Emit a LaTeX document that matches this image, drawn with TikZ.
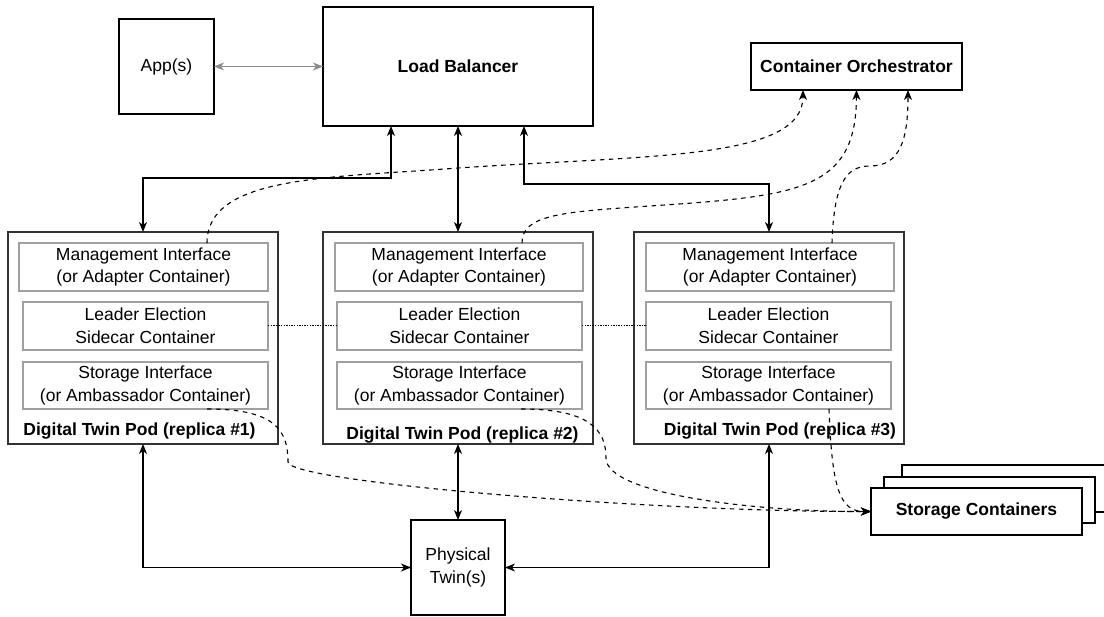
\documentclass[tikz,border=0pt]{standalone}
\usepackage{fontspec}
\setmainfont{Liberation Sans}
\usetikzlibrary{arrows.meta}
\definecolor{podgrey}{HTML}{333333}
\definecolor{partgrey}{HTML}{A0A0A0}
\definecolor{appgrey}{HTML}{8C8C8C}
\begin{document}
\begin{tikzpicture}[x=1pt,y=-1pt,
  txt/.style={font=\fontsize{17.5}{22.7}\selectfont, align=center, inner sep=0pt, outer sep=0pt},
  box/.style={txt, draw=black, line width=1.3pt, fill=white},
  podbox/.style={draw=podgrey, line width=1.4pt, inner sep=0pt, outer sep=0pt, minimum width=270pt, minimum height=212pt},
  part/.style={txt, draw=partgrey, line width=1.3pt, minimum height=48pt},
  tip/.style={Stealth[length=10pt,width=8pt,inset=3pt]},
  link/.style={line width=1.1pt, {Stealth[length=10pt,width=8pt,inset=3pt]}-{Stealth[length=10pt,width=8pt,inset=3pt]}},
  ctrl/.style={line width=1.1pt, dash pattern=on 4.5pt off 4.5pt, -{Stealth[length=10pt,width=8pt,inset=3pt]}},
  sync/.style={line width=1pt, dash pattern=on 1.3pt off 1.3pt}
]
\useasboundingbox (0,0) rectangle (1104,617);
\clip (0,0) rectangle (1104,617);

% top row
\node[box, minimum width=95pt, minimum height=95pt] (app) at (166.5,66.5) {App(s)};
\node[box, minimum width=270pt, minimum height=119pt] (lb) at (458,66.5) {\bfseries Load Balancer};
\node[box, minimum width=211pt, minimum height=47pt] (orch) at (856.5,66.5) {\bfseries Container Orchestrator};

% pods
\node[podbox] (pod1) at (143,338) {};
\node[podbox] (pod2) at (458,338) {};
\node[podbox] (pod3) at (769,338) {};

\node[part, minimum width=249pt] (mgmt1) at (143.5,267) {Management Interface\\(or Adapter Container)};
\node[part, minimum width=245pt] (lead1) at (145.5,326) {Leader Election\\Sidecar Container};
\node[part, minimum width=245pt, minimum height=47pt] (store1) at (145.5,385.5) {Storage Interface\\(or Ambassador Container)};
\node[txt, font=\fontsize{17.5}{22.7}\selectfont\bfseries] (lab1) at (139.5,431) {Digital Twin Pod (replica \#1)};

\node[part, minimum width=248pt] (mgmt2) at (459,267) {Management Interface\\(or Adapter Container)};
\node[part, minimum width=245pt] (lead2) at (459.5,326) {Leader Election\\Sidecar Container};
\node[part, minimum width=245pt, minimum height=47pt] (store2) at (459.5,385.5) {Storage Interface\\(or Ambassador Container)};
\node[txt, font=\fontsize{17.5}{22.7}\selectfont\bfseries] (lab2) at (462.5,435) {Digital Twin Pod (replica \#2)};

\node[part, minimum width=248pt] (mgmt3) at (770,267) {Management Interface\\(or Adapter Container)};
\node[part, minimum width=245pt] (lead3) at (768.5,326) {Leader Election\\Sidecar Container};
\node[part, minimum width=245pt, minimum height=47pt] (store3) at (768.5,385.5) {Storage Interface\\(or Ambassador Container)};
\node[txt, font=\fontsize{17.5}{22.7}\selectfont\bfseries] (lab3) at (780,431) {Digital Twin Pod (replica \#3)};

% physical twin
\node[box, minimum width=94pt, minimum height=95pt] (phys) at (458,567.5) {Physical\\Twin(s)};

% storage stack
\node[box, minimum width=206pt, minimum height=47pt] (stback) at (1005,488.5) {};
\node[box, minimum width=211pt, minimum height=46pt] (stmid) at (989.5,500) {};
\node[box, minimum width=211pt, minimum height=47pt] (store) at (976.5,511.5) {\bfseries Storage Containers};

% app <-> load balancer
\draw[line width=1.1pt, draw=appgrey, {Stealth[length=10pt,width=8pt,inset=3pt]}-{Stealth[length=10pt,width=8pt,inset=3pt]}] (app.east) -- (lb.west);

% load balancer <-> pods
\draw[link] ([xshift=-67pt]lb.south) -- ++(0,52) -| (pod1.north);
\draw[link] (lb.south) -- (pod2.north);
\draw[link] ([xshift=66pt]lb.south) -- ++(0,58) -| (pod3.north);

% pods <-> physical twin
\draw[link] (pod1.south) |- (phys.west);
\draw[link] (pod2.south) -- (phys.north);
\draw[link] (pod3.south) |- (phys.east);

% leader election sync
\draw[sync] (lead1.east) -- (lead2.west);
\draw[sync] (lead2.east) -- (lead3.west);

% management interfaces -> orchestrator
\draw[ctrl] ([xshift=63.5pt]mgmt1.north) .. controls (207,175) and (330,178) .. (458,168)
  .. controls (650,155) and (803,160) .. ([xshift=-53.5pt]orch.south);
\draw[ctrl] ([xshift=63pt]mgmt2.north) .. controls (522,215) and (560,212) .. (650,206)
  .. controls (800,196) and (856,190) .. (orch.south);
\draw[ctrl] ([xshift=62pt]mgmt3.north) .. controls (834,185) and (845,166) .. (870,166)
  .. controls (900,166) and (908,140) .. ([xshift=51.5pt]orch.south);

% storage interfaces -> storage containers
\draw[ctrl] ([xshift=61.5pt]store1.south) .. controls (275,409) and (288,430) .. (288,462)
  .. controls (288,482) and (650,512) .. (store.west);
\draw[ctrl] ([xshift=61.5pt]store2.south) .. controls (590,409) and (606,430) .. (606,458)
  .. controls (606,495) and (760,512) .. (store.west);
\draw[ctrl] ([xshift=60.5pt]store3.south) .. controls (832,490) and (840,511.5) .. (store.west);
\end{tikzpicture}
\end{document}
